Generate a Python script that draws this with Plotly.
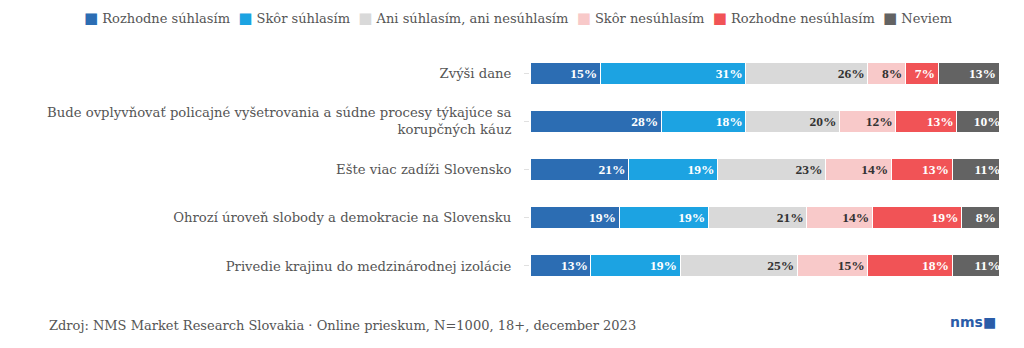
import plotly.graph_objects as go

# Survey statements (top to bottom)
statements = [
    "Zvýši dane",
    "Bude ovplyvňovať policajné vyšetrovania a súdne procesy týkajúce sa<br>korupčných káuz",
    "Ešte viac zadíži Slovensko",
    "Ohrozí úroveň slobody a demokracie na Slovensku",
    "Privedie krajinu do medzinárodnej izolácie",
]

# Answer categories
answers = [
    "Rozhodne súhlasím",
    "Skôr súhlasím",
    "Ani súhlasím, ani nesúhlasím",
    "Skôr nesúhlasím",
    "Rozhodne nesúhlasím",
    "Neviem",
]

# Shares in percent, one list per answer, ordered like `statements`
rozhodne_suhlasim = [15, 28, 21, 19, 13]
skor_suhlasim = [31, 18, 19, 19, 19]
ani_ani = [26, 20, 23, 21, 25]
skor_nesuhlasim = [8, 12, 14, 14, 15]
rozhodne_nesuhlasim = [7, 13, 13, 19, 18]
neviem = [13, 10, 11, 8, 11]

series = [rozhodne_suhlasim, skor_suhlasim, ani_ani,
          skor_nesuhlasim, rozhodne_nesuhlasim, neviem]

colors = ["#2c6db3", "#1ca3e2", "#d9d9d9", "#f8c9c9", "#f15356", "#636363"]
text_colors = ["#ffffff", "#ffffff", "#333333", "#333333", "#ffffff", "#ffffff"]

W, H = 1024, 348
M_L, M_R, M_T, M_B = 530, 25, 49, 58
PLOT_W = W - M_L - M_R
PLOT_H = H - M_T - M_B


def px_x(x):
    """Page x pixel -> paper coordinate."""
    return (x - M_L) / PLOT_W


def px_y(y):
    """Page y pixel (from top) -> paper coordinate."""
    return (H - M_B - y) / PLOT_H


fig = go.Figure()
for name, vals, col, tcol in zip(answers, series, colors, text_colors):
    fig.add_trace(go.Bar(
        y=statements,
        x=vals,
        name=name,
        orientation="h",
        marker=dict(color=col, line=dict(color="#ffffff", width=1)),
        text=[f"{v}%" for v in vals],
        textposition="inside",
        insidetextanchor="end",
        textangle=0,
        constraintext="none",
        textfont=dict(family="Liberation Serif", size=13.5, color=tcol, weight="bold"),
        hoverinfo="skip",
        showlegend=False,
    ))

fig.update_layout(
    width=W,
    height=H,
    barmode="stack",
    bargap=0.54,
    paper_bgcolor="#ffffff",
    plot_bgcolor="#ffffff",
    margin=dict(l=M_L, r=M_R, t=M_T, b=M_B, autoexpand=False),
    font=dict(family="DejaVu Serif", color="#555555"),
    showlegend=False,
    xaxis=dict(
        range=[0, 100],
        visible=False,
        fixedrange=True,
    ),
    yaxis=dict(
        autorange="reversed",
        ticks="outside",
        ticklen=5,
        tickcolor="#e0e0e0",
        ticklabelstandoff=10,
        tickfont=dict(family="DejaVu Serif", size=13.2, color="#555555"),
        showline=False,
        showgrid=False,
        fixedrange=True,
    ),
)

# Compact single-line legend across the top
legend_parts = [
    f'<span style="color:{c};font-size:15px">■</span>&nbsp;{n}'
    for n, c in zip(answers, colors)
]
fig.add_annotation(
    text="&nbsp;&nbsp;".join(legend_parts),
    xref="paper", yref="paper",
    x=px_x(518), y=px_y(18),
    xanchor="center", yanchor="middle",
    showarrow=False,
    font=dict(family="DejaVu Serif", size=13, color="#555555"),
)

fig.add_annotation(
    text="Zdroj: NMS Market Research Slovakia · Online prieskum, N=1000, 18+, december 2023",
    xref="paper", yref="paper",
    x=px_x(47), y=px_y(325),
    xanchor="left", yanchor="middle",
    showarrow=False,
    font=dict(family="DejaVu Serif", size=13, color="#555555"),
)
fig.add_annotation(
    text="<b>nms</b>■",
    xref="paper", yref="paper",
    x=px_x(998), y=px_y(322),
    xanchor="right", yanchor="middle",
    showarrow=False,
    font=dict(family="DejaVu Sans", size=14, color="#2a5ca8"),
)

fig.write_html("out.html")
